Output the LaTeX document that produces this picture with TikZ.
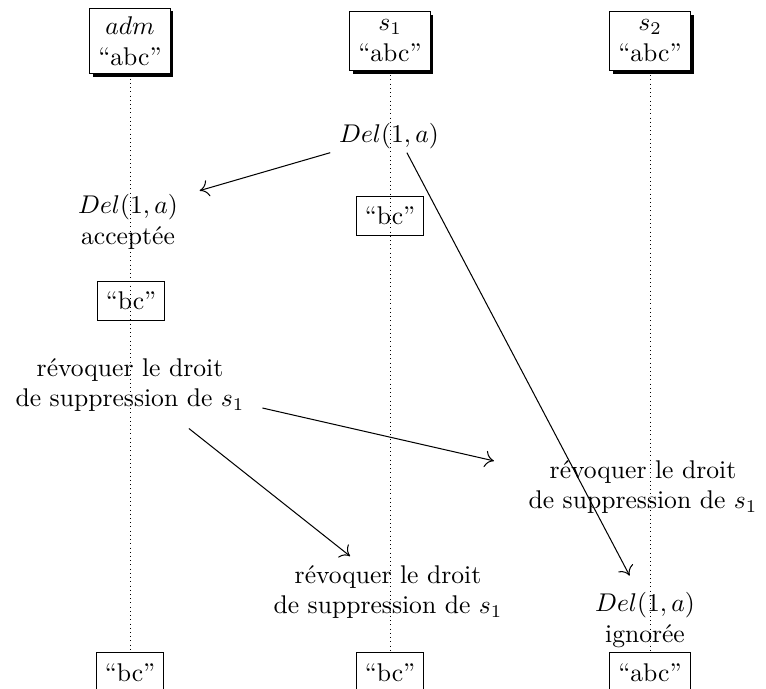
\documentclass[tikz,border=0pt]{standalone}
\usetikzlibrary{shadows,backgrounds,arrows.meta}
\begin{document}
\begin{tikzpicture}[x=0.3906pt,y=-0.3906pt,
  box/.style={draw, align=center, inner sep=3.33pt},
  shadowbox/.style={box, fill=white, drop shadow={shadow xshift=1.3pt, shadow yshift=-1.3pt, fill=black, opacity=1}},
  endbox/.style={box, anchor=north, minimum height=16pt},
  midbox/.style={box, minimum height=15pt},
  lifeline/.style={line width=0.35pt, dash pattern=on 0.35pt off 1.3pt},
  msg/.style={-{To[length=3.5pt,width=6.5pt]}},
  lbl/.style={align=center, inner sep=3.33pt}]
\useasboundingbox (0,0) rectangle (766,689);

% participants
\node[shadowbox] (adm) at (130,41) {$adm$\\“abc”};
\node[shadowbox] (s1) at (390,41) {$s_1$\\“abc”};
\node[shadowbox] (s2) at (650,41) {$s_2$\\“abc”};

% final states
\node[endbox] (admE) at (130,652) {“bc”};
\node[endbox] (s1E) at (390,652) {“bc”};
\node[endbox] (s2E) at (650,652) {“abc”};

% lifelines
\begin{scope}[on background layer]
\draw[lifeline] (adm.south) -- (admE.north);
\draw[lifeline] (s1.south) -- (s1E.north);
\draw[lifeline] (s2.south) -- (s2E.north);
\end{scope}

% events
\node[lbl] (del1) at (389,136) {$Del(1,a)$};
\node[lbl] (acc) at (128,222) {$Del(1,a)$\\acceptée};
\node[midbox] (bcS1) at (390,216) {“bc”};
\node[midbox] (bcAdm) at (131,301) {“bc”};
\node[lbl] (rev1) at (130,385) {révoquer le droit\\de suppression de $s_1$};
\node[lbl] (rev2) at (643,487) {révoquer le droit\\de suppression de $s_1$};
\node[lbl] (rev3) at (388,592) {révoquer le droit\\de suppression de $s_1$};
\node[lbl] (ign) at (645,620) {$Del(1,a)$\\ignorée};

% messages
\draw[msg] ([yshift=2pt]del1.south west) -- ([xshift=5pt,yshift=-2pt]acc.north east);
\draw[msg] ([xshift=7pt,yshift=2pt]del1.south) -- ([xshift=-6pt,yshift=3pt]ign.north);
\draw[msg] ([xshift=3.5pt,yshift=5pt]rev1.south east) -- ([xshift=-10pt,yshift=-3.8pt]rev2.north west);
\draw[msg] ([xshift=23pt,yshift=-3pt]rev1.south) -- ([xshift=-14.8pt,yshift=0pt]rev3.north);
\end{tikzpicture}
\end{document}
